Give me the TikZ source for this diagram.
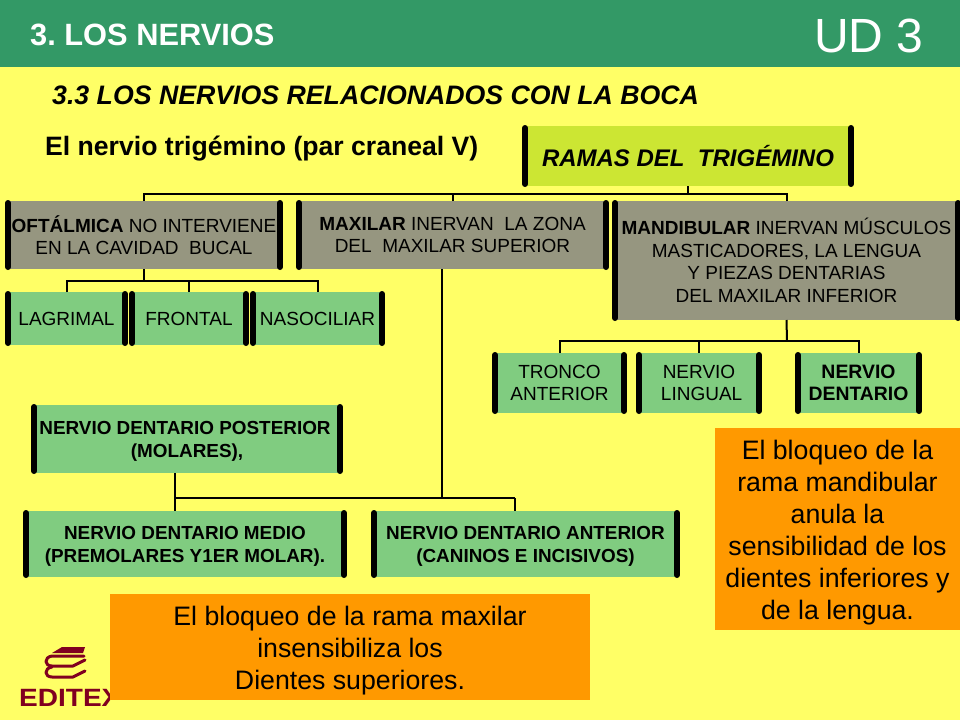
\documentclass[tikz,border=0pt]{standalone}
\usepackage{fontspec}
\setmainfont{Liberation Sans}
\frenchspacing
\definecolor{bgyellow}{HTML}{FFFF66}
\definecolor{headgreen}{HTML}{339966}
\definecolor{boxgray}{HTML}{969680}
\definecolor{boxgreen}{HTML}{80CC80}
\definecolor{boxlime}{HTML}{CCE633}
\definecolor{boxorange}{HTML}{FF9900}
\definecolor{logored}{HTML}{800020}
\newcommand{\bodyfont}{\fontsize{19}{22.5}\selectfont}
\newcommand{\smallbold}{\fontsize{18.9}{22.5}\selectfont\bfseries}
\newcommand{\notefont}{\fontsize{26.7}{32}\selectfont}
\newcommand{\noteraise}{\rule{0pt}{26pt}}
\newcommand{\boldraise}{\rule{0pt}{17.5pt}}
\tikzset{
  boxbase/.style={inner sep=0pt,outer sep=0pt,align=center,text=black},
  graybox/.style={boxbase,fill=boxgray},
  greenbox/.style={boxbase,fill=boxgreen},
  limebox/.style={boxbase,fill=boxlime},
  notebox/.style={boxbase,fill=boxorange,font=\notefont},
  sidebar/.style={line width=6pt,line cap=round,shorten >=2pt,shorten <=2pt},
  conn/.style={line width=2pt,black},
  titletext/.style={inner sep=0pt,anchor=west},
}
% name, x1, y1, x2, y2, style, text
\newcommand{\barbox}[7]{%
  \node[#6,minimum width={(#4-#2)*1pt},minimum height={(#5-#3)*1pt}] (#1) at ({(#2+#4)/2},{(#3+#5)/2}) {#7};
  \draw[sidebar] (#1.north west) -- (#1.south west);
  \draw[sidebar] (#1.north east) -- (#1.south east);
}
\begin{document}
\begin{tikzpicture}[x=1pt,y=-1pt]
\useasboundingbox (0,0) rectangle (960,720);
\fill[bgyellow] (0,0) rectangle (960,720);
\fill[headgreen] (0,0) rectangle (960,67);
\node[titletext,text=white,font=\fontsize{30.8}{32}\selectfont\bfseries] (head) at (30,35) {3. LOS NERVIOS};
\node[titletext,text=white,font=\fontsize{48}{52}\selectfont] (ud) at (814,36) {UD 3};
\node[titletext,font=\fontsize{26.7}{30}\selectfont\bfseries\itshape] (sub) at (52,95) {3.3 LOS NERVIOS RELACIONADOS CON LA BOCA};
\node[titletext,font=\fontsize{26.6}{30}\selectfont\bfseries] (tri) at (45,146) {\rule{0pt}{24pt}El nervio trigémino (par craneal V)};

% connectors
\coordinate (busA) at (688,194);
\coordinate (busB) at (144,281);
\coordinate (busC) at (787,341);
\coordinate (busD) at (442,498);
\coordinate (busDl) at (175,498);
\coordinate (busDr) at (515,498);

% logo
\fill[logored] (62,647) -- (85,647) -- (83,653) -- (52,653) -- cycle;
\draw[logored,line width=3pt,line cap=round,line join=round]
  (84,656) -- (52,656) .. controls (44,657) and (44,666) .. (52,666) -- (73,666) -- (85,660);
\draw[logored,line width=3pt,line cap=round,line join=round]
  (52,667) .. controls (44,668) and (44,677) .. (52,677) -- (73,677) -- (85,671);
\begin{scope}
\clip (0,680) rectangle (110,720);
\node[titletext,text=logored,xscale=1.12,font=\fontsize{25}{28}\selectfont\bfseries] (logo) at (19,698) {EDITEX};
\end{scope}

\barbox{ramas}{525}{126}{851}{186}{limebox,font=\fontsize{24}{28}\selectfont\bfseries\itshape}{RAMAS DEL\ \ TRIGÉMINO}
\barbox{ofta}{8}{201}{280}{269}{graybox,font=\bodyfont}{\textbf{OFTÁLMICA} NO INTERVIENE\\EN LA CAVIDAD\ \ BUCAL}
\barbox{maxi}{299}{201}{606}{269}{graybox,font=\bodyfont}{\textbf{MAXILAR} INERVAN\ \ LA ZONA\\DEL\ \ MAXILAR SUPERIOR}
\barbox{mand}{615}{201}{958}{320}{graybox,font=\bodyfont}{\textbf{MANDIBULAR} INERVAN MÚSCULOS\\MASTICADORES, LA LENGUA\\Y PIEZAS DENTARIAS\\DEL MAXILAR INFERIOR}
\barbox{lagr}{8}{292}{125}{345}{greenbox,font=\bodyfont}{LAGRIMAL}
\barbox{fron}{132}{292}{246}{345}{greenbox,font=\bodyfont}{FRONTAL}
\barbox{naso}{253}{292}{382}{345}{greenbox,font=\bodyfont}{NASOCILIAR}
\barbox{tron}{495}{353}{624}{413}{greenbox,font=\bodyfont}{TRONCO\\ANTERIOR}
\barbox{ling}{639}{353}{759}{413}{greenbox,font=\bodyfont}{NERVIO\\\ LINGUAL}
\barbox{dent}{798}{353}{919}{413}{greenbox,font=\fontsize{19.4}{22.5}\selectfont\bfseries}{NERVIO\\DENTARIO}
\barbox{post}{34}{405}{340}{473}{greenbox,font=\smallbold}{\boldraise NERVIO DENTARIO POSTERIOR\kern4pt\\(MOLARES),}
\barbox{medi}{26}{511}{344}{577}{greenbox,font=\smallbold}{\boldraise NERVIO DENTARIO MEDIO\\(PREMOLARES Y1ER MOLAR).}
\barbox{ante}{374}{511}{677}{577}{greenbox,font=\smallbold}{\boldraise NERVIO DENTARIO ANTERIOR\\(CANINOS E INCISIVOS)}

\draw[conn] (ramas.south) -- (busA);
\draw[conn] (ofta.north) |- (busA);
\draw[conn] (maxi.north) -- (maxi.north |- busA);
\draw[conn] (mand.north) |- (busA);
\draw[conn] (ofta.south) -- (busB);
\draw[conn] (lagr.north) |- (busB);
\draw[conn] (fron.north) -- (fron.north |- busB);
\draw[conn] (naso.north) |- (busB);
\draw[conn] (mand.south) -- (busC);
\draw[conn] (tron.north) |- (busC);
\draw[conn] (ling.north) -- (ling.north |- busC);
\draw[conn] (dent.north) |- (busC);
\draw[conn] (busD |- maxi.south) -- (busD);
\draw[conn] (busDl) -- (busDr);
\draw[conn] (busDl |- post.south) -- (busDl |- medi.north);
\draw[conn] (busDr) -- (busDr |- ante.north);

\node[notebox,minimum width=480pt,minimum height=106pt] (notea) at (350,647) {\noteraise El bloqueo de la rama maxilar\\insensibiliza los\\Dientes superiores.};
\node[notebox,minimum width=245pt,minimum height=202pt] (noteb) at (837.5,529) {\noteraise El bloqueo de la\\rama mandibular\\anula la\\sensibilidad de los\\dientes inferiores y\\de la lengua.};
\end{tikzpicture}
\end{document}
